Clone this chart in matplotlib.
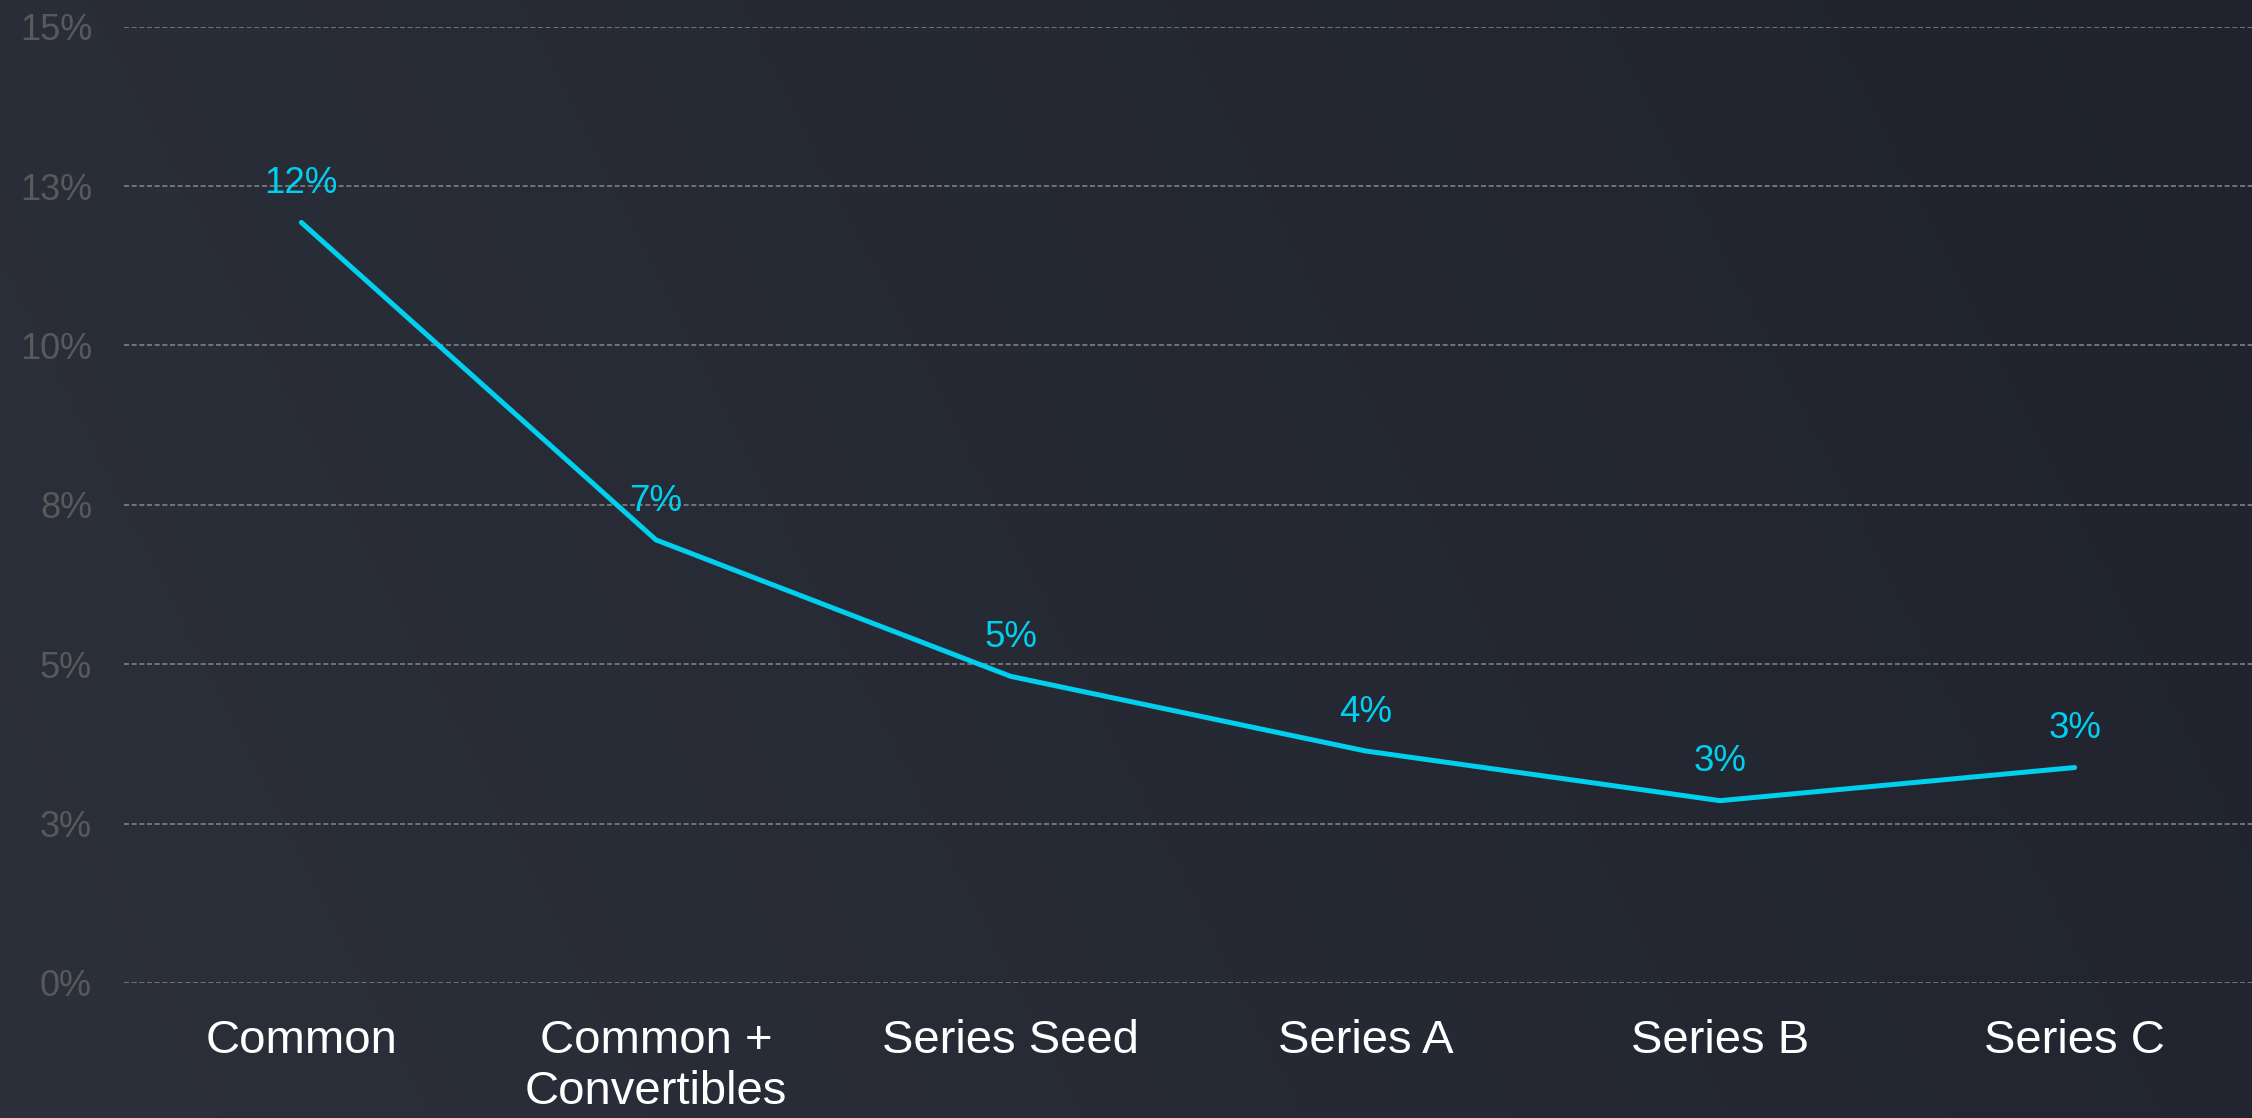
import matplotlib
matplotlib.use("Agg")
import matplotlib.pyplot as plt
import numpy as np

# data
categories = ["Common", "Common +\nConvertibles", "Series Seed", "Series A", "Series B", "Series C"]
values = [11.93, 6.95, 4.81, 3.64, 2.86, 3.38]
ytick_vals = [0, 2.5, 5, 7.5, 10, 12.5, 15]
ytick_labels = ["0%", "3%", "5%", "8%", "10%", "13%", "15%"]

plt.rcParams['font.family'] = ['Liberation Sans', 'DejaVu Sans']

W, H = 2252, 1118
fig = plt.figure(figsize=(W / 100, H / 100), dpi=100)

# background gradient (lighter on the left, darker right)
bg = fig.add_axes([0, 0, 1, 1], zorder=-10)
gx, gy = np.meshgrid(np.linspace(0, 1, 400), np.linspace(0, 1, 200))
t = np.clip(0.8 * gx + 0.2 * (1 - gy), 0, 1)
left = np.array([44, 48, 59]) / 255
right = np.array([32, 35, 46]) / 255
img = left[None, None, :] * (1 - t[..., None]) + right[None, None, :] * t[..., None]
bg.imshow(img, aspect="auto", extent=[0, 1, 0, 1], origin="upper")
bg.axis("off")

ax = fig.add_axes([124 / W, 135 / H, 1 - 124 / W, (983 - 26.7) / H])
ax.set_facecolor("none")

x = np.arange(len(categories))
ax.plot(x, values, color="#00cfee", lw=3.6, solid_capstyle="round", solid_joinstyle="round", zorder=3)

for xi, v in zip(x, values):
    ax.annotate(f"{v:.0f}%", (xi, v), xytext=(0, 28), textcoords="offset points",
                ha="center", va="center", color="#00cfee", fontsize=26.5)

ax.set_xlim(-0.5, len(categories) - 0.5)
ax.set_ylim(0, 15)
ax.set_yticks(ytick_vals)
ax.set_yticklabels(ytick_labels)
ax.set_xticks(x)
ax.set_xticklabels(categories, color="white", fontsize=34, va="top", linespacing=1.2)

ax.grid(axis="y", color="#7d8089", lw=1.2, linestyle=(0, (3, 1.6)))
ax.set_axisbelow(True)
ax.tick_params(axis="y", length=0, pad=23, labelsize=26, labelcolor="#59595b")
ax.tick_params(axis="x", length=0, pad=26)
for s in ax.spines.values():
    s.set_visible(False)

fig.savefig("out.png", dpi=100, facecolor="#282c37")
